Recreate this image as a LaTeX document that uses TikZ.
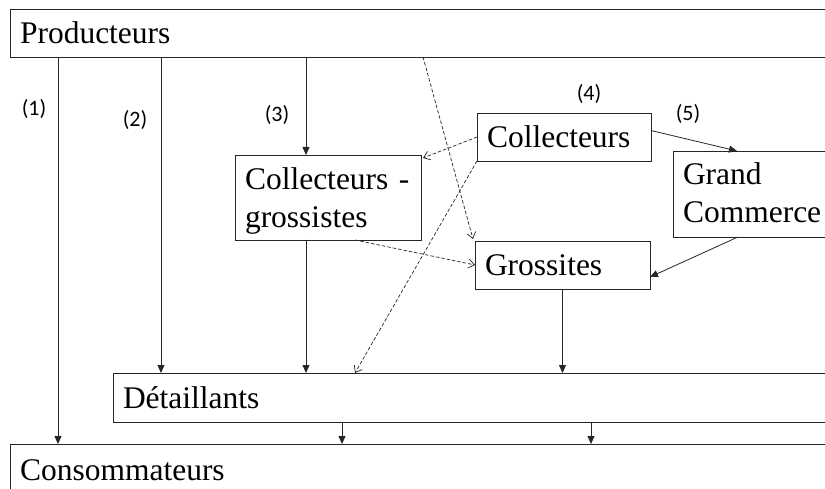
\documentclass[tikz,border=0pt]{standalone}
\usepackage{fontspec}
\setmainfont{Liberation Serif}
\newfontfamily\lblfont{Carlito}
\usetikzlibrary{arrows.meta}

\begin{document}
\begin{tikzpicture}[x=1pt,y=-1pt,
  every node/.style={outer sep=0pt},
  box/.style={draw=black!85, line width=0.9pt, anchor=north west, align=left,
    inner xsep=10pt, inner ysep=0pt, font=\fontsize{31.5}{38}\selectfont,
    text height=35pt, text depth=13pt},
  lbl/.style={font=\lblfont\fontsize{22}{26}\selectfont, inner sep=0pt},
  flow/.style={draw=black!85, line width=0.8pt, -{Triangle[length=8pt,width=7pt]}},
  dflow/.style={draw=black!85, line width=0.7pt, dash pattern=on 3.5pt off 2pt,
    -{Straight Barb[length=6pt,width=9pt]}}]
\useasboundingbox (0,0) rectangle (825,489);
\clip (0,0) rectangle (825,489);

\node[box, text width=820pt] (prod) at (10,9) {Producteurs};
\node[box, text width=166pt, text height=35pt, text depth=50pt] (cg) at (235,155) {Collecteurs -\\grossistes};
\node[box, text width=154pt] (coll) at (477,113) {Collecteurs};
\node[box, text width=160pt, text height=34pt, text depth=52pt] (gc) at (673,151) {Grand\\Commerce};
\node[box, text width=155pt] (gros) at (475,241) {Grossites};
\node[box, text width=720pt, text height=35pt, text depth=14pt] (det) at (113,373) {Détaillants};
\node[box, text width=820pt, text height=36pt] (cons) at (10,444) {Consommateurs};

\node[lbl] (l1) at (34,109) {(1)};
\node[lbl] (l2) at (135,120) {(2)};
\node[lbl] (l3) at (277,115) {(3)};
\node[lbl] (l4) at (589,94) {(4)};
\node[lbl] (l5) at (688,114) {(5)};

\draw[flow] ([xshift=48pt]prod.south west) -- ([xshift=48pt]cons.north west);
\draw[flow] ([xshift=151pt]prod.south west) -- ([xshift=48pt]det.north west);
\draw[flow] ([xshift=296pt]prod.south west) -- ([xshift=71pt]cg.north west);
\draw[flow] ([xshift=71pt]cg.south west) -- ([xshift=193pt]det.north west);
\draw[flow] (gros.south) -- (gros.south |- det.north);
\draw[flow] ([xshift=229pt]det.south west) -- ([xshift=332pt]cons.north west);
\draw[flow] ([xshift=478pt]det.south west) -- ([xshift=581pt]cons.north west);
\draw[flow] ([yshift=6.5pt]coll.east) -- ([xshift=64pt]gc.north west);
\draw[flow] ([xshift=65pt]gc.south west) -- ([yshift=12pt]gros.south east);

\draw[dflow] ([xshift=413pt]prod.south west) -- ([xshift=-2pt,yshift=2pt]gros.north west);
\draw[dflow] (coll.west) -- ([xshift=2pt,yshift=-3pt]cg.north east);
\draw[dflow] (coll.south west) -- ([xshift=242pt]det.north west);
\draw[dflow] ([xshift=120pt]cg.south west) -- (gros.west);
\end{tikzpicture}
\end{document}
